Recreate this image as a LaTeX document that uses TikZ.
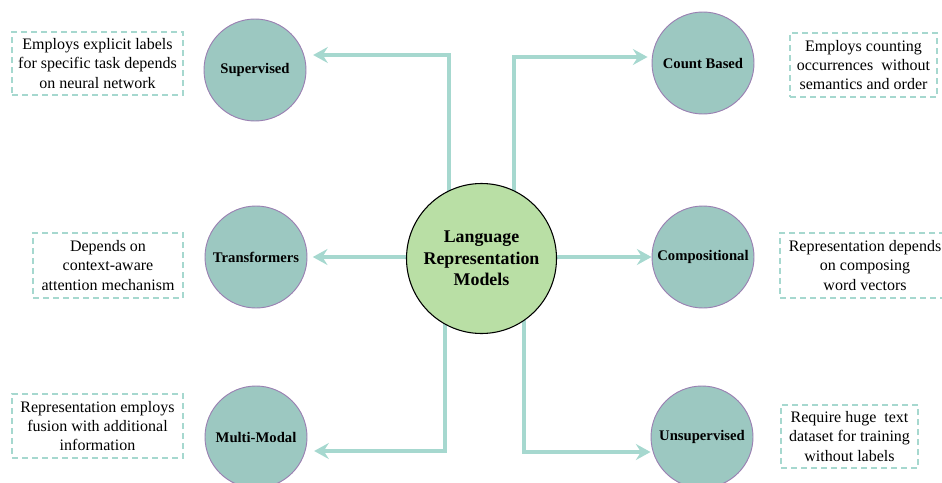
\documentclass[tikz,border=0pt]{standalone}
\usepackage{fontspec}
\setmainfont{Liberation Serif}
\usetikzlibrary{arrows.meta,backgrounds}

\definecolor{catfill}{HTML}{9CC8C1}
\definecolor{catline}{HTML}{9A80B2}
\definecolor{hubfill}{HTML}{B9DFA5}
\definecolor{linkcol}{HTML}{A6D8CF}

\tikzset{
  hub/.style={circle, minimum size=112.5pt, inner sep=0pt, fill=hubfill, draw=black,
    line width=0.8pt, align=center, font=\bfseries\fontsize{13.4}{16}\selectfont},
  cat/.style={circle, minimum size=76.5pt, inner sep=0pt, fill=catfill, draw=catline,
    line width=0.7pt, align=center, font=\bfseries\fontsize{11}{13}\selectfont},
  note/.style={rectangle, draw=linkcol, line width=1.5pt, dash pattern=on 4.5pt off 3pt,
    inner sep=0pt, align=center, font=\fontsize{12}{14.3}\selectfont},
  link/.style={draw=linkcol, line width=2.4pt,
    -{Stealth[length=11pt,width=12pt,inset=3.8pt]}},
}

\begin{document}
\begin{tikzpicture}[x=0.75pt,y=-0.75pt]
\useasboundingbox (0,0) rectangle (942,482);
\clip (0,0) rectangle (942,482);

% hub and the six model families
\node[hub] (hub) at (481.5,258.5) {Language\\Representation\\Models};
\node[cat] (sup) at (255,70)  {Supervised};
\node[cat] (cnt) at (703,63)  {Count Based};
\node[cat] (trf) at (256,257) {Transformers};
\node[cat] (cmp) at (703,257) {Compositional};
\node[cat] (mmd) at (256,437) {Multi-Modal};
\node[cat] (uns) at (702,437) {Unsupervised};

% short descriptions
\node[note, minimum width=128.25pt, minimum height=47.25pt] (dsup) at (97.5,63.5)
  {Employs explicit labels\\for specific task depends\\on neural network};
\node[note, minimum width=110.25pt, minimum height=48pt] (dcnt) at (863.5,65)
  {Employs counting\\occurrences\ \ without\\semantics and order};
\node[note, minimum width=112.5pt, minimum height=48.75pt] (dtrf) at (108,265.5)
  {Depends on\\context-aware\\attention mechanism};
\node[note, minimum width=127.5pt, minimum height=48.75pt] (dcmp) at (865,265.5)
  {Representation depends\\on composing\\word vectors};
\node[note, minimum width=128.25pt, minimum height=48pt] (dmmd) at (97.5,426)
  {Representation employs\\fusion with additional\\information};
\node[note, minimum width=102.75pt, minimum height=47.25pt] (duns) at (849.5,436.5)
  {Require huge\ \ text\\dataset for training\\without labels};

% bend points of the elbow connectors
\coordinate (ksup) at (449,55);
\coordinate (kcnt) at (514,57);
\coordinate (kmmd) at (445,451);
\coordinate (kuns) at (524,452);

\begin{pgfonlayer}{background}
  \draw[link, shorten >=5pt] (ksup |- hub) -- (ksup) -- (ksup -| sup.east);
  \draw[link, shorten >=3pt] (kcnt |- hub) -- (kcnt) -- (kcnt -| cnt.west);
  \draw[link, shorten >=4pt] (hub.west |- trf) -- (trf.east);
  \draw[link] (hub.east |- cmp) -- (cmp.west);
  \draw[link, shorten >=5pt] (kmmd |- hub) -- (kmmd) -- (kmmd -| mmd.east);
  \draw[link] (kuns |- hub) -- (kuns) -- (kuns -| uns.west);
\end{pgfonlayer}
\end{tikzpicture}
\end{document}
